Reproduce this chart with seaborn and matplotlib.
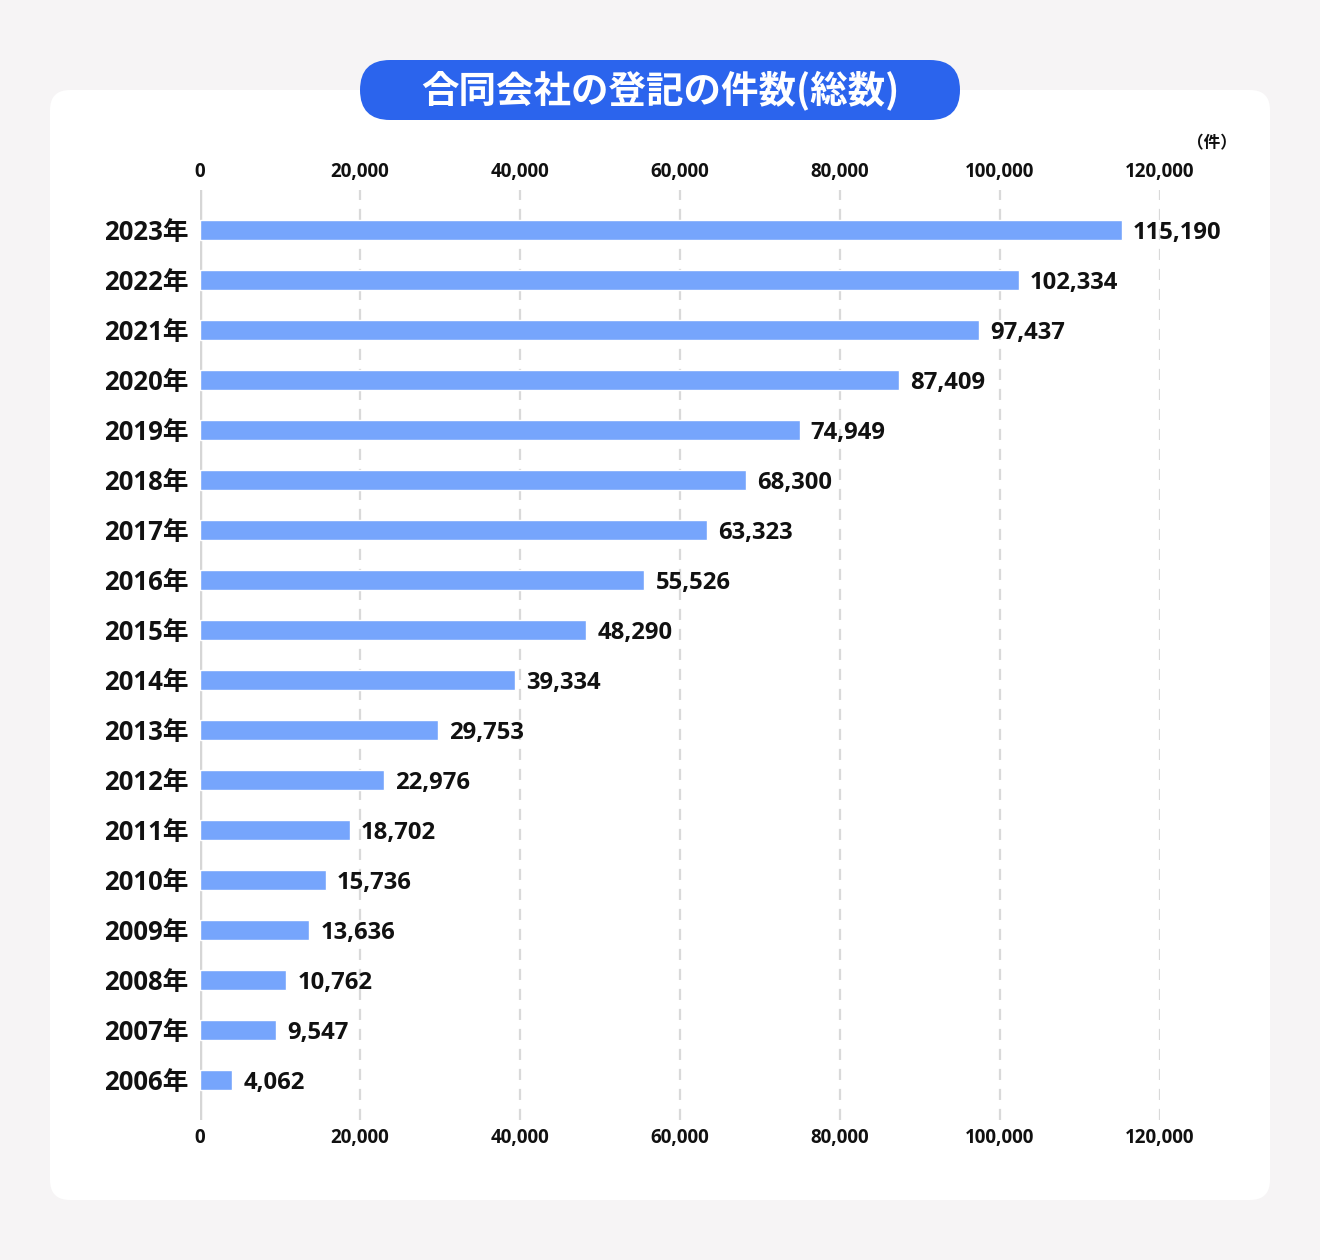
import pandas as pd
import seaborn as sns
import matplotlib.pyplot as plt
from matplotlib.patches import FancyBboxPatch
from matplotlib.transforms import IdentityTransform

years = ['2023年', '2022年', '2021年', '2020年', '2019年', '2018年', '2017年', '2016年', '2015年',
         '2014年', '2013年', '2012年', '2011年', '2010年', '2009年', '2008年', '2007年', '2006年']
counts = [115190, 102334, 97437, 87409, 74949, 68300, 63323, 55526, 48290,
          39334, 29753, 22976, 18702, 15736, 13636, 10762, 9547, 4062]
x_ticks = [0, 20000, 40000, 60000, 80000, 100000, 120000]

title = '合同会社の登記の件数(総数)'
unit = '（件）'

BG = '#f6f4f5'
BLUE = '#2b64ed'
BAR = '#76a5fc'

sns.set_theme(style='white')
plt.rcParams['font.family'] = ['Open Sans', 'Noto Sans CJK JP', 'DejaVu Sans']
plt.rcParams['font.weight'] = 'bold'

W, H = 1320, 1260
fig = plt.figure(figsize=(W / 100, H / 100), dpi=100, facecolor=BG)

# white card and title pill, drawn in pixel coords behind the axes
card = FancyBboxPatch((50, H - 1200), 1220, 1110, boxstyle='round,pad=0,rounding_size=20',
                      transform=IdentityTransform(), facecolor='white', edgecolor='none', zorder=-3)
pill = FancyBboxPatch((360, H - 120), 600, 60, boxstyle='round,pad=0,rounding_size=30',
                      transform=IdentityTransform(), facecolor=BLUE, edgecolor='none', zorder=-2)
fig.patches.extend([card, pill])
fig.text(660 / W, 1 - 90 / H, title, color='white', fontsize=27, fontweight='bold',
         ha='center', va='center', family=['Noto Sans CJK JP', 'DejaVu Sans'])

ax = fig.add_axes([200 / W, 1 - 1120 / H, 960 / W, 930 / H])
ax.set_zorder(1)
ax.set_facecolor('none')

df = pd.DataFrame({'year': years, 'count': counts})
sns.barplot(data=df, x='count', y='year', order=years, color=BAR, width=0.4,
            saturation=1, ax=ax, zorder=3)

ax.set_xlim(0, 120000)
ax.set_ylim(17.8, -0.8)
ax.set_xticks(x_ticks)
ax.set_xticklabels([f'{t:,}' for t in x_ticks])
ax.tick_params(axis='x', labeltop=True, labelbottom=True, top=False, bottom=False,
               length=0, labelsize=13.5, pad=6, colors='#111111')
ax.tick_params(axis='y', left=False, length=0, labelsize=18.5, pad=8, colors='#111111')
for lbl in ax.get_xticklabels() + ax.get_yticklabels():
    lbl.set_fontweight('bold')

for t in x_ticks[1:]:
    ax.axvline(t, color='#d9d9d9', lw=1.6, ls=(0, (5, 4)), zorder=1)
ax.axvline(0, color='#d6d6d6', lw=2.5, zorder=2)

for i, v in enumerate(counts):
    ax.text(v + 1400, i, f'{v:,}', va='center_baseline', ha='left', fontsize=17.2,
            fontweight='bold', color='#111111')

for s in ax.spines.values():
    s.set_visible(False)
ax.set_xlabel('')
ax.set_ylabel('')

fig.text(1212 / W, 1 - 143 / H, unit, ha='center', va='center', fontsize=12,
         fontweight='bold', color='#111111', family=['Noto Sans CJK JP', 'DejaVu Sans'])

fig.savefig('out.png', dpi=100, facecolor=BG)
